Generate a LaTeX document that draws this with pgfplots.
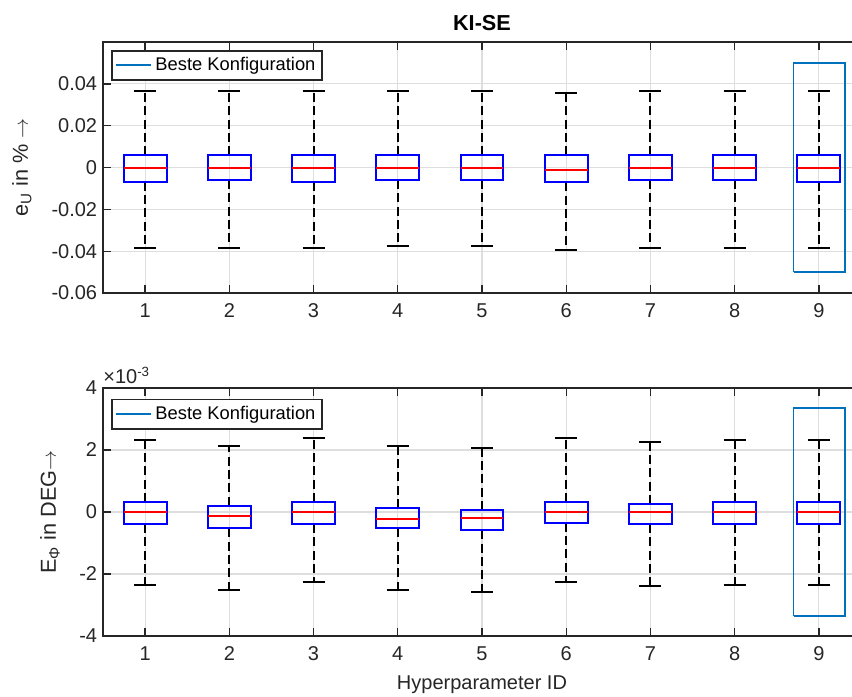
\documentclass[border=0pt]{standalone}
\usepackage{pgfplots}
\pgfplotsset{compat=1.18}
\usepgfplotslibrary{statistics}
\usetikzlibrary{calc}
\usepackage{fontspec}
\setmainfont{Liberation Sans}
\definecolor{mblue}{RGB}{0,114,189}
\definecolor{axisgray}{RGB}{38,38,38}
\definecolor{gridgray}{RGB}{222,222,222}
\pgfplotsset{
  myax/.style={
    scale only axis,
    width=454.8pt,
    xmin=0.5, xmax=9.5,
    xtick={1,2,3,4,5,6,7,8,9},
    /pgf/number format/assume math mode=true,
    tick label style={font=\fontsize{12}{14}\selectfont, color=axisgray},
    xticklabel style={yshift=-3pt},
    label style={font=\fontsize{12}{14}\selectfont, color=axisgray},
    axis line style={draw=axisgray, line width=0.9pt},
    major tick style={draw=axisgray, line width=0.8pt},
    major tick length=4.6pt,
    xmajorgrids, ymajorgrids,
    grid style={draw=gridgray, line width=0.7pt},
    scaled y ticks=false,
    boxplot/draw direction=y,
    boxplot/box extend=0.51,
    boxplot/whisker extend=0.26,
    boxplot/every box/.style={draw=blue, line width=1.2pt},
    boxplot/draw/median/.code={%
      \draw[red, line width=1.2pt]
        (boxplot box cs:\pgfplotsboxplotvalue{median},0) --
        (boxplot box cs:\pgfplotsboxplotvalue{median},1);
    },
    boxplot/draw/lower whisker/.code={%
      \draw[black, line width=1.2pt, dash pattern=on 5.4pt off 2.6pt]
        (boxplot cs:\pgfplotsboxplotvalue{lower quartile}) --
        (boxplot cs:\pgfplotsboxplotvalue{lower whisker});
      \draw[black, line width=1.2pt]
        (boxplot whisker cs:\pgfplotsboxplotvalue{lower whisker},0) --
        (boxplot whisker cs:\pgfplotsboxplotvalue{lower whisker},1);
    },
    boxplot/draw/upper whisker/.code={%
      \draw[black, line width=1.2pt, dash pattern=on 5.4pt off 2.6pt]
        (boxplot cs:\pgfplotsboxplotvalue{upper quartile}) --
        (boxplot cs:\pgfplotsboxplotvalue{upper whisker});
      \draw[black, line width=1.2pt]
        (boxplot whisker cs:\pgfplotsboxplotvalue{upper whisker},0) --
        (boxplot whisker cs:\pgfplotsboxplotvalue{upper whisker},1);
    },
    legend image code/.code={\draw[mblue, line width=1.2pt] (0pt,0pt) -- (21pt,0pt);},
    legend style={anchor=north west, draw=axisgray, line width=0.9pt,
      font=\fontsize{11}{13}\selectfont, inner sep=2pt, text=black},
  }
}
\begin{document}
\begin{tikzpicture}
\begin{axis}[myax, name=top,
  height=150.6pt,
  ymin=-0.06, ymax=0.06,
  ytick={-0.06,-0.04,-0.02,0,0.02,0.04},
  yticklabels={-0.06,-0.04,-0.02,0,0.02,0.04},
  title={\fontsize{13}{15}\selectfont\bfseries KI-SE},
  title style={color=black, yshift=-3pt},
  every axis y label/.style={at={(axis description cs:-0.107,0.5)}, rotate=90, anchor=center, font=\fontsize{13}{15}\selectfont, color=axisgray},
  ylabel={e\textsubscript{U} in \% $\rightarrow$},
  legend style={at={(axis description cs:0.0106,0.968)}},
]
\addplot[forget plot, boxplot prepared={draw position=1, lower whisker=-0.0384, lower quartile=-0.0067, median=0, upper quartile=0.0058, upper whisker=0.0365}] coordinates {};
\addplot[forget plot, boxplot prepared={draw position=2, lower whisker=-0.0384, lower quartile=-0.0059, median=0, upper quartile=0.0058, upper whisker=0.0365}] coordinates {};
\addplot[forget plot, boxplot prepared={draw position=3, lower whisker=-0.0384, lower quartile=-0.0067, median=0, upper quartile=0.0058, upper whisker=0.0365}] coordinates {};
\addplot[forget plot, boxplot prepared={draw position=4, lower whisker=-0.0374, lower quartile=-0.0059, median=0, upper quartile=0.0058, upper whisker=0.0365}] coordinates {};
\addplot[forget plot, boxplot prepared={draw position=5, lower whisker=-0.0374, lower quartile=-0.0059, median=0, upper quartile=0.0058, upper whisker=0.0365}] coordinates {};
\addplot[forget plot, boxplot prepared={draw position=6, lower whisker=-0.0395, lower quartile=-0.0071, median=-0.001, upper quartile=0.0058, upper whisker=0.0355}] coordinates {};
\addplot[forget plot, boxplot prepared={draw position=7, lower whisker=-0.0384, lower quartile=-0.0059, median=0, upper quartile=0.0058, upper whisker=0.0365}] coordinates {};
\addplot[forget plot, boxplot prepared={draw position=8, lower whisker=-0.0384, lower quartile=-0.0059, median=0, upper quartile=0.0058, upper whisker=0.0365}] coordinates {};
\addplot[forget plot, boxplot prepared={draw position=9, lower whisker=-0.0384, lower quartile=-0.0067, median=0, upper quartile=0.0058, upper whisker=0.0365}] coordinates {};
\addplot[mblue, line width=1pt] coordinates {(8.7,-0.05) (9.31,-0.05) (9.31,0.05) (8.7,0.05) (8.7,-0.05)};
\addlegendentry{Beste Konfiguration}
\end{axis}
\begin{axis}[myax, name=bot,
  at={($(top.south west)+(0pt,-57pt)$)}, anchor=north west,
  height=148.8pt,
  ymin=-4, ymax=4,
  ytick={-4,-2,0,2,4},
  yticklabels={-4,-2,0,2,4},
  every axis y label/.style={at={(axis description cs:-0.07,0.5)}, rotate=90, anchor=center, font=\fontsize{13}{15}\selectfont, color=axisgray},
  ylabel={E\textsubscript{Φ} in DEG$\rightarrow$},
  xlabel={Hyperparameter ID},
  xlabel style={yshift=-2pt},
  legend style={at={(axis description cs:0.0106,0.956)}},
]
\addplot[forget plot, boxplot prepared={draw position=1, lower whisker=-2.34, lower quartile=-0.39, median=0, upper quartile=0.32, upper whisker=2.33}] coordinates {};
\addplot[forget plot, boxplot prepared={draw position=2, lower whisker=-2.52, lower quartile=-0.53, median=-0.13, upper quartile=0.20, upper whisker=2.12}] coordinates {};
\addplot[forget plot, boxplot prepared={draw position=3, lower whisker=-2.26, lower quartile=-0.39, median=0, upper quartile=0.32, upper whisker=2.39}] coordinates {};
\addplot[forget plot, boxplot prepared={draw position=4, lower whisker=-2.52, lower quartile=-0.53, median=-0.21, upper quartile=0.13, upper whisker=2.12}] coordinates {};
\addplot[forget plot, boxplot prepared={draw position=5, lower whisker=-2.59, lower quartile=-0.59, median=-0.19, upper quartile=0.06, upper whisker=2.06}] coordinates {};
\addplot[forget plot, boxplot prepared={draw position=6, lower whisker=-2.27, lower quartile=-0.34, median=0, upper quartile=0.32, upper whisker=2.39}] coordinates {};
\addplot[forget plot, boxplot prepared={draw position=7, lower whisker=-2.40, lower quartile=-0.39, median=0, upper quartile=0.26, upper whisker=2.25}] coordinates {};
\addplot[forget plot, boxplot prepared={draw position=8, lower whisker=-2.34, lower quartile=-0.39, median=0, upper quartile=0.32, upper whisker=2.33}] coordinates {};
\addplot[forget plot, boxplot prepared={draw position=9, lower whisker=-2.34, lower quartile=-0.39, median=0, upper quartile=0.32, upper whisker=2.33}] coordinates {};
\addplot[mblue, line width=1pt] coordinates {(8.7,-3.35) (9.31,-3.35) (9.31,3.35) (8.7,3.35) (8.7,-3.35)};
\addlegendentry{Beste Konfiguration}
\end{axis}
\node[anchor=south west, inner sep=0pt, yshift=2.5pt, color=axisgray, font=\fontsize{12}{14}\selectfont] at (bot.north west) {×10\textsuperscript{-3}};
\pgfresetboundingbox
\useasboundingbox ($(top.north west)+(-61.8pt,25.2pt)$) rectangle ($(bot.south west)+(449.4pt,-36pt)$);
\end{tikzpicture}
\end{document}
